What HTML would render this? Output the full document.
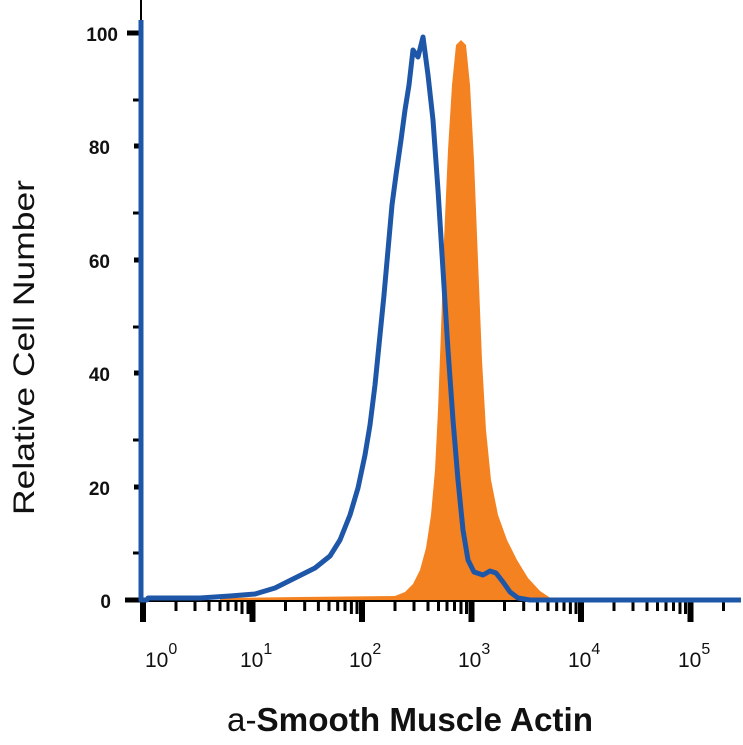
<!DOCTYPE html>
<html><head><meta charset="utf-8"><style>body{margin:0;background:#fff}svg{display:block}</style></head><body>
<svg width="743" height="745" viewBox="0 0 743 745" xmlns="http://www.w3.org/2000/svg" font-family="Liberation Sans, sans-serif">
<rect width="743" height="745" fill="#fff"/>
<path fill="#f58220" d="M220,600 L220,598 L300,597 L395,596 L405,592 L413,584 L420,570 L426,548 L431,515 L435,470 L438,410 L441,330 L444,240 L448,150 L452,85 L456,45 L461,40 L466,45 L470,85 L474,160 L478,260 L482,360 L486,430 L491,480 L498,515 L507,540 L517,560 L528,578 L540,591 L552,599 L560,600 Z"/>
<line x1="141" y1="0" x2="141" y2="603" stroke="#000" stroke-width="2"/>
<line x1="141" y1="601" x2="741" y2="601" stroke="#000" stroke-width="2"/>
<g stroke="#000" stroke-width="5">
<line x1="127" y1="33" x2="141" y2="33"/>
<line x1="134" y1="146" x2="141" y2="146"/>
<line x1="134" y1="260" x2="141" y2="260"/>
<line x1="134" y1="373" x2="141" y2="373"/>
<line x1="134" y1="487" x2="141" y2="487"/>
<line x1="125" y1="600" x2="141" y2="600"/>
<line x1="133" y1="100" x2="141" y2="100" stroke-width="3"/>
<line x1="133" y1="213" x2="141" y2="213" stroke-width="3"/>
<line x1="133" y1="327" x2="141" y2="327" stroke-width="3"/>
<line x1="133" y1="440" x2="141" y2="440" stroke-width="3"/>
<line x1="133" y1="553" x2="141" y2="553" stroke-width="3"/>
</g>
<g stroke="#000" stroke-width="6">
<line x1="143" y1="601" x2="143" y2="622"/><line x1="252.5" y1="601" x2="252.5" y2="622"/><line x1="362" y1="601" x2="362" y2="622"/><line x1="471.5" y1="601" x2="471.5" y2="622"/><line x1="581" y1="601" x2="581" y2="622"/><line x1="690.5" y1="601" x2="690.5" y2="622"/>
</g>
<g stroke="#000" stroke-width="3">
<path d="M176,601v10M195,601v10M209,601v10M220,601v10M228,601v10M236,601v10M242,601v13M248,601v13
M285.5,601v10M304.7,601v10M318.4,601v10M329,601v10M337.7,601v10M345,601v10M351.4,601v13M357,601v13
M395,601v10M414,601v10M428,601v10M438.5,601v10M447,601v10M454.5,601v10M461,601v13M466.5,601v13
M504.5,601v10M523.7,601v10M537.4,601v10M548,601v10M556.7,601v10M564,601v10M570.4,601v13M576,601v13
M614,601v10M633,601v10M647,601v10M657.5,601v10M666,601v10M673.5,601v10M680,601v13M685.5,601v13
M723.5,601v10"/>
</g>
<path fill="none" stroke="#1f57a8" stroke-width="5" stroke-linejoin="round" d="M141,20 L141,600 L147,600 L148,598 L200,598 L230,596 L255,594 L275,588 L295,578 L315,568 L330,556 L340,540 L350,515 L358,488 L365,455 L370,425 L375,385 L380,335 L384,295 L388,250 L392,205 L396,175 L401,140 L405,110 L409,85 L413,50 L418,57 L423,37 L428,75 L433,120 L438,190 L443,270 L448,350 L453,420 L458,480 L463,530 L468,560 L474,572 L483,575 L490,571 L496,573 L503,582 L510,592 L518,598 L530,600 L741,600"/>
<g font-size="19" font-weight="bold" fill="#111" text-anchor="end">
<text x="118" y="41">100</text><text x="110" y="154">80</text><text x="110" y="268">60</text><text x="110" y="381">40</text><text x="110" y="495">20</text><text x="111" y="608">0</text>
</g>
<g font-size="21" fill="#111">
<text x="145" y="667">10<tspan dy="-13" font-size="16">0</tspan></text>
<text x="240" y="667">10<tspan dy="-13" font-size="16">1</tspan></text>
<text x="349" y="667">10<tspan dy="-13" font-size="16">2</tspan></text>
<text x="458" y="667">10<tspan dy="-13" font-size="16">3</tspan></text>
<text x="568" y="667">10<tspan dy="-13" font-size="16">4</tspan></text>
<text x="678" y="667">10<tspan dy="-13" font-size="16">5</tspan></text>
</g>
<text x="227" y="731" font-size="33" fill="#111" textLength="366" lengthAdjust="spacingAndGlyphs">a-<tspan font-weight="bold">Smooth Muscle Actin</tspan></text>
<text transform="translate(34,515) rotate(-90)" font-size="30" fill="#111" textLength="335" lengthAdjust="spacingAndGlyphs">Relative Cell Number</text>
</svg>
</body></html>
